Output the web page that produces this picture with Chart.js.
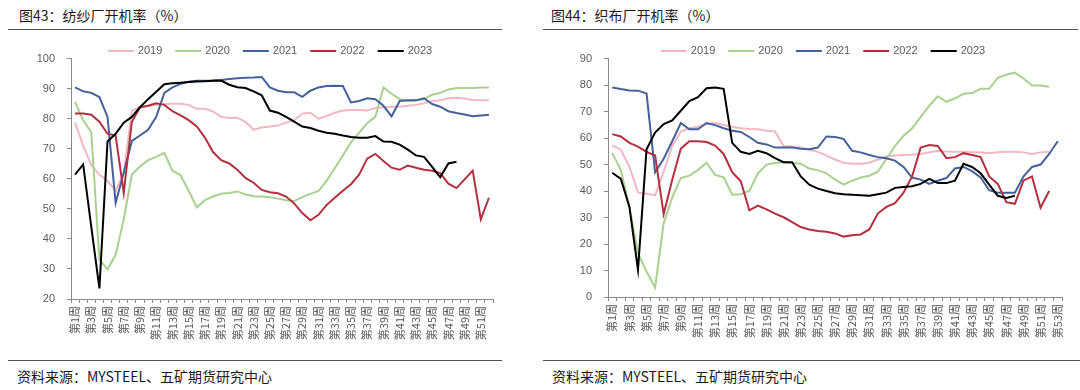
<!DOCTYPE html>
<html>
<head>
<meta charset="utf-8">
<script src="https://cdn.jsdelivr.net/npm/chart.js@4.4.0/dist/chart.umd.min.js"></script>
<style>
body { margin: 0; width: 1080px; height: 390px; background: #fff; position: relative; overflow: hidden; font-family: "Noto Sans CJK SC", sans-serif; }
.title { position: absolute; top: 5px; font-size: 14px; line-height: 20px; color: #1a1a1a; }
.src { position: absolute; top: 366px; font-size: 14px; line-height: 20px; color: #1a1a1a; }
.rule { position: absolute; height: 1px; background: #505050; }
canvas { position: absolute; top: 40px; }
</style>
</head>
<body>
<div class="title" style="left:19px">图43：纺纱厂开机率（%）</div>
<div class="title" style="left:551px">图44：织布厂开机率（%）</div>
<div class="rule" style="left:8px;width:494px;top:29px"></div>
<div class="rule" style="left:543px;width:535px;top:29px"></div>
<canvas id="spin" width="540" height="310" style="left:0"></canvas>
<canvas id="weave" width="540" height="310" style="left:540px"></canvas>
<div class="rule" style="left:8px;width:494px;top:360px"></div>
<div class="rule" style="left:543px;width:537px;top:360px"></div>
<div class="src" style="left:17px">资料来源：MYSTEEL、五矿期货研究中心</div>
<div class="src" style="left:552px">资料来源：MYSTEEL、五矿期货研究中心</div>

<script>
// categories
const weeksSpin = Array.from({length: 52}, (_, i) => '第' + (i + 1) + '周');
const weeksWeave = Array.from({length: 53}, (_, i) => '第' + (i + 1) + '周');
const years = ['2019', '2020', '2021', '2022', '2023'];

// 图43 纺纱厂开机率
const spin2019 = [78.7, 71, 64.6, 61.4, 59.3, 56, 62, 82.7, 83.8, 84.2, 84.6, 84.9, 85, 85, 84.6, 83.3, 83.3, 82.4, 80.6, 80.2,
  80.3, 79, 76.3, 77.1, 77.4, 77.7, 78.7, 79.5, 81.7, 82, 80, 80.9, 82, 82.7, 82.9, 82.9, 82.7, 83.6, 83.8, 84,
  84, 84.3, 84.6, 85.1, 85.9, 86.1, 86.8, 87, 86.7, 86.2, 86.1, 86.1];
const spin2020 = [85.6, 79.5, 75.5, 33.1, 29.9, 34.7, 46.5, 61.4, 64.1, 66.2, 67.3, 68.6, 62.7, 61.2, 56, 50.5, 52.9, 54.1, 55, 55.3,
  55.8, 54.8, 54.2, 54.1, 53.9, 53.4, 52.9, 52.6, 53.9, 55, 56, 59.3, 63.5, 67.8, 72.1, 75.3, 78.5, 80.6, 90.4, 88.3,
  86.5, 85.9, 86.1, 86.5, 88, 88.6, 89.7, 90.2, 90.2, 90.2, 90.4, 90.4];
const spin2021 = [90.4, 89.1, 88.6, 87.2, 80.6, 52, 62, 72.6, 74.4, 76.3, 80.6, 88.6, 90.4, 91.6, 92.3, 92.6, 92.6, 92.7, 92.9, 93.2,
  93.5, 93.6, 93.7, 93.9, 90.4, 89.3, 88.8, 88.8, 87.3, 89.3, 90.4, 90.9, 91, 90.9, 85.4, 85.9, 86.8, 86.5, 84.3, 80.8,
  85.9, 86.1, 86.1, 86.8, 84.9, 84, 82.5, 81.9, 81.4, 80.8, 81.1, 81.3];
const spin2022 = [81.7, 81.7, 81.3, 79, 75, 74.4, 55.3, 79, 83.8, 84.3, 85.1, 84.6, 82.5, 81.1, 79.5, 77.4, 73.7, 68.9, 66.2, 65.1,
  63, 60.3, 58.7, 56.3, 55.5, 55.2, 54.1, 51.8, 48.6, 46.2, 48, 51.3, 53.7, 56, 58.2, 61.4, 66.7, 68.3, 65.9, 63.7,
  63, 64.4, 63.7, 63, 62.7, 61.9, 58.4, 56.9, 59.8, 62.7, 46.5, 53.7];
const spin2023 = [61.4, 64.8, 44, 23.5, 72.4, 75, 78.7, 80.6, 83.8, 86.5, 89, 91.5, 91.8, 92, 92.2, 92.4, 92.5, 92.6, 92.7, 91.3,
  90.5, 90.2, 89.1, 87.8, 82.7, 82, 80.6, 79, 77.4, 76.9, 76, 75.3, 75, 74.4, 73.9, 73.7, 73.7, 74.2, 72.4, 72.3,
  71.4, 69.7, 67.8, 67.3, 64, 60.5, 65.1, 65.7];

// 图44 织布厂开机率
const weave2019 = [57.2, 55.6, 49.1, 39.4, 39, 38.4, 47.3, 57, 62.5, 63.7, 64.3, 65.3, 65.7, 64.9, 64.3, 63.7, 63.4, 63.3, 62.8, 62.5,
  57, 56.8, 56.4, 55.6, 54.8, 53.4, 51.9, 50.7, 50.3, 50.3, 50.7, 51.9, 53.1, 53.4, 53.6, 53.7, 54, 54.6, 55.2, 54.9,
  54.8, 54.8, 54.6, 54.6, 54.3, 54.6, 54.8, 54.8, 54.6, 54, 54.6, 54.8];
const weave2020 = [54.3, 47.9, 34, 16.5, 9.6, 3.6, 27.9, 37.6, 44.9, 45.8, 47.9, 50.7, 46.1, 45.2, 38.6, 38.8, 40, 46.7, 50, 50.6,
  50.9, 50.6, 50.3, 48.5, 47.9, 46.7, 44.3, 42.4, 43.9, 45.1, 45.8, 47.3, 52.2, 57, 60.9, 63.7, 67.9, 72.2, 75.8, 73.7,
  75, 76.7, 77, 78.6, 78.6, 82.7, 83.9, 84.7, 82.5, 79.8, 79.8, 79.4];
const weave2021 = [79.1, 78.5, 78, 77.9, 76.8, 47.1, 52.2, 58.8, 65.7, 63.3, 63.3, 65.7, 64.9, 63.7, 62.8, 62.3, 60.4, 58.2, 57.6, 56.4,
  56.4, 56.4, 56, 55.8, 56.4, 60.6, 60.4, 59.7, 55.2, 54.6, 53.6, 52.8, 52.4, 51.5, 49.1, 45.1, 44.3, 42.7, 43.9, 44.9,
  48.5, 49.1, 47.5, 45.1, 40.3, 39.4, 39.4, 39.4, 45.5, 49.1, 50, 54, 58.8];
const weave2022 = [61.5, 60.6, 58.2, 56.8, 54.8, 53.4, 31.3, 44.3, 56, 58.8, 58.8, 58.5, 57.2, 54, 47.1, 43.7, 32.7, 34.5, 33.1, 31.5,
  30.1, 28.3, 26.4, 25.5, 24.9, 24.6, 24, 22.8, 23.3, 23.6, 25.5, 31.5, 34, 35.4, 39.4, 45.5, 56.4, 57.4, 57, 52.4,
  52.8, 54.3, 53.6, 52.8, 45.5, 42.7, 35.8, 35.2, 43.9, 45.5, 33.7, 40];
const weave2023 = [46.9, 44.6, 34, 10.3, 55.8, 62.1, 65.3, 66.7, 70.3, 74, 75.4, 78.8, 79.1, 78.6, 58.2, 54.8, 54, 55.2, 54.3, 52.4,
  50.9, 50.9, 45.5, 42.4, 40.9, 40, 39.2, 38.8, 38.6, 38.4, 38.2, 38.8, 39.4, 41.2, 41.5, 41.8, 42.7, 44.6, 43, 43,
  43.9, 50.3, 49.1, 46.7, 42.4, 38.2, 37.4, 38.2];

const lineColors = ['#f3b7c0', '#a9d08e', '#44619b', '#b2303f', '#000000'];
const axisColor = '#8a8a8a';
const textColor = '#595959';

// legend drawn inside the plot, line sample + year
const lineLegend = {
  id: 'lineLegend',
  afterDraw(chart) {
    const ctx = chart.ctx, area = chart.chartArea;
    const sw = 26, gap = 4, space = 13;
    ctx.save();
    ctx.font = '11px "Liberation Sans", Arial, sans-serif';
    ctx.textBaseline = 'middle';
    const sets = chart.data.datasets;
    let total = 0;
    sets.forEach((d, i) => {
      total += sw + gap + ctx.measureText(d.label).width + (i < sets.length - 1 ? space : 0);
    });
    let x = (area.left + area.right) / 2 - 12 - total / 2;
    const y = 11;
    sets.forEach(d => {
      ctx.strokeStyle = d.borderColor;
      ctx.lineWidth = 2;
      ctx.beginPath();
      ctx.moveTo(x, y);
      ctx.lineTo(x + sw, y);
      ctx.stroke();
      x += sw + gap;
      ctx.fillStyle = textColor;
      ctx.fillText(d.label, x, y);
      x += ctx.measureText(d.label).width + space;
    });
    ctx.restore();
  }
};

function makeChart(id, weeks, series, yMin, yMax, yWidth, xHeight, padRight) {
  return new Chart(document.getElementById(id), {
    type: 'line',
    data: {
      labels: weeks,
      datasets: series.map((vals, i) => ({
        label: years[i],
        data: vals,
        borderColor: lineColors[i],
        borderWidth: 2,
        pointRadius: 0,
        tension: 0,
        fill: false,
        order: 5 - i
      }))
    },
    options: {
      responsive: false,
      animation: false,
      layout: { padding: { top: 9, right: padRight, bottom: 0, left: 0 } },
      plugins: { legend: { display: false }, tooltip: { enabled: false } },
      scales: {
        x: {
          offset: true,
          grid: { offset: true, drawOnChartArea: false, drawTicks: true, tickLength: 4, color: axisColor },
          border: { color: axisColor },
          ticks: {
            autoSkip: false, minRotation: 90, maxRotation: 90, padding: 3,
            color: textColor,
            font: { family: '"Noto Sans CJK SC", sans-serif', size: 11 },
            callback: function(v, i) { return i % 2 === 0 ? this.getLabelForValue(v) : ''; }
          },
          afterFit: s => { s.height = xHeight; }
        },
        y: {
          min: yMin, max: yMax,
          grid: { drawOnChartArea: false, tickLength: 4, color: axisColor },
          border: { color: axisColor },
          ticks: {
            stepSize: 10, padding: 12, color: textColor,
            font: { family: '"Liberation Sans", Arial, sans-serif', size: 11 }
          },
          afterFit: s => { s.width = yWidth; }
        }
      }
    },
    plugins: [lineLegend]
  });
}

makeChart('spin', weeksSpin, [spin2019, spin2020, spin2021, spin2022, spin2023], 20, 100, 71, 51, 47);
makeChart('weave', weeksWeave, [weave2019, weave2020, weave2021, weave2022, weave2023], 0, 90, 68, 53, 18);
</script>
</body>
</html>
